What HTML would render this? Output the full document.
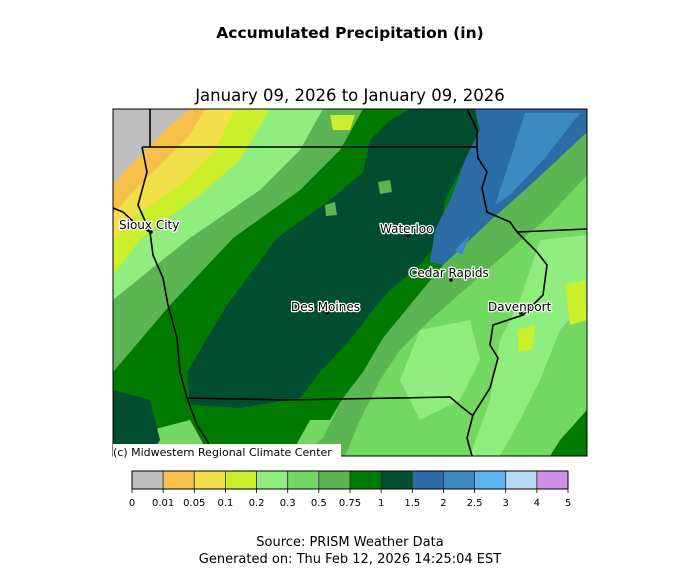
<!DOCTYPE html>
<html><head><meta charset="utf-8"><style>
body{margin:0;background:#fff;width:700px;height:575px;overflow:hidden}
svg{display:block}
text{font-family:"DejaVu Sans","Liberation Sans",sans-serif}
</style></head><body>
<svg width="700" height="575" viewBox="0 0 700 575">
<text x="350" y="38" text-anchor="middle" font-size="15.5" font-weight="bold">Accumulated Precipitation (in)</text>
<text x="350" y="101" text-anchor="middle" font-size="16.5">January 09, 2026 to January 09, 2026</text>
<defs><clipPath id="m"><rect x="113" y="109" width="474" height="347"/></clipPath></defs>
<g clip-path="url(#m)">
<rect x="113" y="109" width="474" height="347" fill="#72d861"/>
<polygon fill="#90ee7e" points="540,240 587,235 587,300 560,330 540,380 520,420 500,456 470,456 490,400 500,340 520,300"/>
<polygon fill="#90ee7e" points="420,330 470,320 480,360 460,400 420,420 400,380"/>
<polygon fill="#cbef2a" points="565,285 585,280 587,320 570,325"/>
<polygon fill="#cbef2a" points="518,330 535,325 532,350 518,352"/>
<polygon fill="#5ab552" points="587,125 587,175 550,215 510,250 470,285 430,320 400,350 380,380 360,420 345,456 300,456 323,438 343,398 363,372 383,338 410,305 443,265 493,218 527,188"/>
<polygon fill="#5ab552" points="200,400 290,402 300,456 215,456"/>
<polygon fill="#007a00" points="363,109 587,109 587,132 527,188 493,218 443,265 410,305 383,338 363,372 343,398 330,420 310,420 290,456 210,456 190,420 113,440 113,372 170,305 233,238 300,190 340,150"/>
<polygon fill="#007a00" points="560,440 587,410 587,456 550,456"/>
<polygon fill="#004e2f" points="410,109 475,109 480,140 460,170 445,200 440,240 420,265 390,290 377,305 350,340 320,372 300,398 240,408 190,405 187,372 227,305 277,238 330,200 363,172 370,140 390,120"/>
<polygon fill="#004e2f" points="113,390 150,400 160,440 150,456 113,456"/>
<polygon fill="#2b6ba6" points="475,109 587,109 587,132 527,188 493,218 443,265 430,262 435,230 450,200 465,160 480,130"/>
<polygon fill="#3b8bc2" points="525,113 580,113 545,158 510,195 495,205 505,175"/>
<polygon fill="#3b8bc2" points="455,250 470,235 462,255"/>
<polygon fill="#5ab552" points="113,109 363,109 340,150 300,190 233,238 170,305 113,372"/>
<polygon fill="#90ee7e" points="113,109 323,109 300,150 260,190 190,238 150,270 113,300"/>
<polygon fill="#cbef2a" points="113,109 270,109 240,160 200,195 165,220 140,240 113,275"/>
<polygon fill="#f2e04a" points="113,109 235,109 215,150 180,185 140,212 113,240"/>
<polygon fill="#f7c04a" points="113,109 205,109 190,135 160,165 130,195 113,215"/>
<polygon fill="#bebebe" points="113,109 190,109 170,125 145,150 125,170 113,185"/>
<polygon fill="#cbef2a" points="330,115 355,115 350,130 333,130"/>
<polygon fill="#5ab552" points="378,182 390,180 392,192 380,194"/>
<polygon fill="#5ab552" points="325,205 335,202 337,215 326,216"/>
</g>
<g fill="none" stroke="#000" stroke-width="1.6">
<polyline points="150,109 150,147"/>
<polyline points="142,147 477,147"/>
<polyline points="142,147 147,172 138,205 150,232 153,255 163,278 168,305 177,338 180,372 187,398 197,425 208,442 212,456"/>
<polyline points="113,208 123,212 137,225 150,232"/>
<polyline points="187,398 287,400 450,397 463,408 472,415"/>
<polyline points="467,109 477,130 477,147 478,158 487,172 482,188 487,212 510,222 517,232 537,252 547,265 543,295 523,315 493,325 490,345 498,358 490,388 473,415 467,438 472,456"/>
<polyline points="517,232 587,229"/>
</g>
<rect x="113" y="109" width="474" height="347" fill="none" stroke="#000" stroke-width="1"/>
<rect x="113" y="444" width="228" height="16" fill="#fff"/>
<text x="113" y="456" font-size="11">(c) Midwestern Regional Climate Center</text>
<g fill="#000"><circle cx="151" cy="232" r="1.8"/><circle cx="408" cy="235" r="1.8"/><circle cx="451" cy="280" r="1.8"/><circle cx="327" cy="313" r="1.8"/><circle cx="521" cy="313" r="1.8"/></g>
<g font-size="12" fill="#000" stroke="#fff" stroke-width="2.5" paint-order="stroke" stroke-linejoin="round">
<text x="119" y="229">Sioux City</text>
<text x="380" y="233">Waterloo</text>
<text x="409" y="277">Cedar Rapids</text>
<text x="291" y="311">Des Moines</text>
<text x="488" y="311">Davenport</text>
</g>
<g stroke="#333" stroke-width="0.8">
<rect x="132" y="471" width="31.14" height="18" fill="#bebebe"/>
<rect x="163.14" y="471" width="31.14" height="18" fill="#f7c04a"/>
<rect x="194.29" y="471" width="31.14" height="18" fill="#f2e04a"/>
<rect x="225.43" y="471" width="31.14" height="18" fill="#cbef2a"/>
<rect x="256.57" y="471" width="31.14" height="18" fill="#90ee7e"/>
<rect x="287.71" y="471" width="31.14" height="18" fill="#72d861"/>
<rect x="318.86" y="471" width="31.14" height="18" fill="#5ab552"/>
<rect x="350" y="471" width="31.14" height="18" fill="#007a00"/>
<rect x="381.14" y="471" width="31.14" height="18" fill="#004e2f"/>
<rect x="412.29" y="471" width="31.14" height="18" fill="#2b6ba6"/>
<rect x="443.43" y="471" width="31.14" height="18" fill="#3b8bc2"/>
<rect x="474.57" y="471" width="31.14" height="18" fill="#5db4ee"/>
<rect x="505.71" y="471" width="31.14" height="18" fill="#b8dcf5"/>
<rect x="536.86" y="471" width="31.14" height="18" fill="#cf8ee8"/>
</g>
<rect x="132" y="471" width="436" height="18" fill="none" stroke="#000" stroke-width="1"/>
<g stroke="#000" stroke-width="0.8">
<line x1="132" y1="489" x2="132" y2="493"/><line x1="163.14" y1="489" x2="163.14" y2="493"/><line x1="194.29" y1="489" x2="194.29" y2="493"/><line x1="225.43" y1="489" x2="225.43" y2="493"/><line x1="256.57" y1="489" x2="256.57" y2="493"/><line x1="287.71" y1="489" x2="287.71" y2="493"/><line x1="318.86" y1="489" x2="318.86" y2="493"/><line x1="350" y1="489" x2="350" y2="493"/><line x1="381.14" y1="489" x2="381.14" y2="493"/><line x1="412.29" y1="489" x2="412.29" y2="493"/><line x1="443.43" y1="489" x2="443.43" y2="493"/><line x1="474.57" y1="489" x2="474.57" y2="493"/><line x1="505.71" y1="489" x2="505.71" y2="493"/><line x1="536.86" y1="489" x2="536.86" y2="493"/><line x1="568" y1="489" x2="568" y2="493"/>
</g>
<g font-size="10" text-anchor="middle">
<text x="132" y="506">0</text><text x="163.14" y="506">0.01</text><text x="194.29" y="506">0.05</text><text x="225.43" y="506">0.1</text><text x="256.57" y="506">0.2</text><text x="287.71" y="506">0.3</text><text x="318.86" y="506">0.5</text><text x="350" y="506">0.75</text><text x="381.14" y="506">1</text><text x="412.29" y="506">1.5</text><text x="443.43" y="506">2</text><text x="474.57" y="506">2.5</text><text x="505.71" y="506">3</text><text x="536.86" y="506">4</text><text x="568" y="506">5</text>
</g>
<text x="350" y="546" text-anchor="middle" font-size="13">Source: PRISM Weather Data</text>
<text x="350" y="563" text-anchor="middle" font-size="13">Generated on: Thu Feb 12, 2026 14:25:04 EST</text>
</svg>
</body></html>
